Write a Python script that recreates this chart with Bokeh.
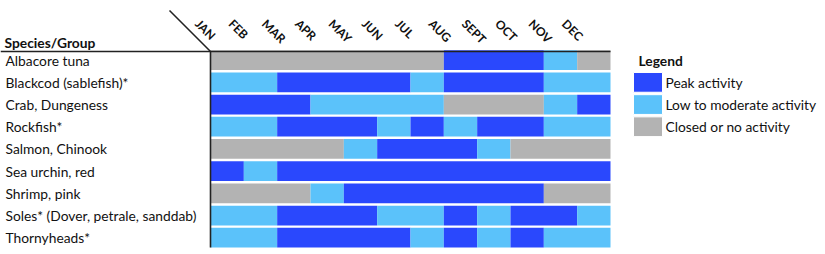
import math
from bokeh.plotting import figure
from bokeh.models import Range1d, ColumnDataSource
from bokeh.core.properties import value
from bokeh.embed import file_html
from bokeh.resources import INLINE

months = ["JAN", "FEB", "MAR", "APR", "MAY", "JUN", "JUL", "AUG", "SEPT", "OCT", "NOV", "DEC"]
species = ["Albacore tuna", "Blackcod (sablefish)*", "Crab, Dungeness", "Rockfish*",
           "Salmon, Chinook", "Sea urchin, red", "Shrimp, pink",
           "Soles* (Dover, petrale, sanddab)", "Thornyheads*"]
# P = peak, L = low to moderate, C = closed / no activity
albacore    = ["C", "C", "C", "C", "C", "C", "C", "P", "P", "P", "L", "C"]
blackcod    = ["L", "L", "P", "P", "P", "P", "L", "P", "P", "P", "L", "L"]
crab        = ["P", "P", "P", "L", "L", "L", "L", "C", "C", "C", "L", "P"]
rockfish    = ["L", "L", "P", "P", "P", "L", "P", "L", "P", "P", "L", "L"]
salmon      = ["C", "C", "C", "C", "L", "P", "P", "P", "L", "C", "C", "C"]
sea_urchin  = ["P", "L", "P", "P", "P", "P", "P", "P", "P", "P", "P", "P"]
shrimp      = ["C", "C", "C", "L", "P", "P", "P", "P", "P", "P", "C", "C"]
soles       = ["L", "L", "P", "P", "P", "L", "L", "P", "L", "P", "P", "L"]
thornyheads = ["L", "L", "P", "P", "P", "P", "L", "P", "L", "P", "L", "L"]
statuses = [albacore, blackcod, crab, rockfish, salmon, sea_urchin, shrimp, soles, thornyheads]

legend_keys = ["P", "L", "C"]
legend_labels = ["Peak activity", "Low to moderate activity", "Closed or no activity"]
colors = {"P": "#2A48FD", "L": "#5BC2FA", "C": "#B3B3B3"}

W, H = 825, 254
X0, CW = 210.0, 400.0 / 12      # pixel of JAN left edge, month width
Y0, RH = 49.8, 22.19            # pixel of first row top, row pitch
BAR = 0.89

def px_x(px):
    return (px - X0) / CW

def px_y(px):
    return (px - Y0) / RH - BAR / 2

p = figure(width=W, height=H, output_backend="svg", toolbar_location=None,
           x_range=Range1d(px_x(0), px_x(W)), y_range=Range1d(px_y(H), px_y(0)),
           min_border=0, outline_line_color=None)
p.axis.visible = False
p.grid.visible = False
p.background_fill_color = "white"
p.border_fill_color = "white"

# merge contiguous runs per row
left, right, ys, cols = [], [], [], []
for i, row in enumerate(statuses):
    start = 0
    for m in range(1, 13):
        if m == 12 or row[m] != row[start]:
            left.append(start)
            right.append(m)
            ys.append(i)
            cols.append(colors[row[start]])
            start = m
src = ColumnDataSource(dict(left=left, right=right, y=ys, color=cols))
p.hbar(y="y", left="left", right="right", height=BAR, fill_color="color",
       line_color=None, source=src)

FONT = value("Lato")
FS = "13.8px"
# row labels
p.text(x=[px_x(5)] * len(species), y=list(range(len(species))), text=species,
       text_font=FONT, text_font_size=FS, text_baseline="middle",
       text_align="left", text_color="#111111")
# header
p.text(x=[px_x(4)], y=[px_y(42)], text=["Species/Group"],
       text_font=FONT, text_font_size=FS, text_font_style="bold",
       text_baseline="middle", text_align="left", text_color="#111111")

# month labels (rotated)
mx = [px_x(X0 + k * CW - 13) for k in range(12)]
p.text(x=mx, y=[px_y(21)] * 12, text=months, angle=-math.pi / 4,
       text_font=FONT, text_font_size="12px", text_font_style="bold",
       text_baseline="middle", text_align="left", text_color="#111111")

# frame lines
top_y = px_y(51)
bot_y = px_y(247)
p.segment(x0=[px_x(0), 0, px_x(169)], y0=[top_y, top_y, px_y(10)],
          x1=[12, 0, 0], y1=[top_y, bot_y, top_y],
          line_color="#222222", line_width=1.6)

# legend
p.text(x=[px_x(638)], y=[0], text=["Legend"], text_font=FONT, text_font_size=FS,
       text_font_style="bold", text_baseline="middle", text_align="left",
       text_color="#111111")
lx0, lx1 = px_x(633), px_x(662)
p.hbar(y=[1, 2, 3], left=[lx0] * 3, right=[lx1] * 3, height=BAR,
       fill_color=[colors[k] for k in legend_keys], line_color="white", line_width=1)
p.text(x=[px_x(665)] * 3, y=[1, 2, 3], text=legend_labels, text_font=FONT,
       text_font_size=FS, text_baseline="middle", text_align="left",
       text_color="#111111")

open("out.html", "w").write(file_html(p, INLINE))
